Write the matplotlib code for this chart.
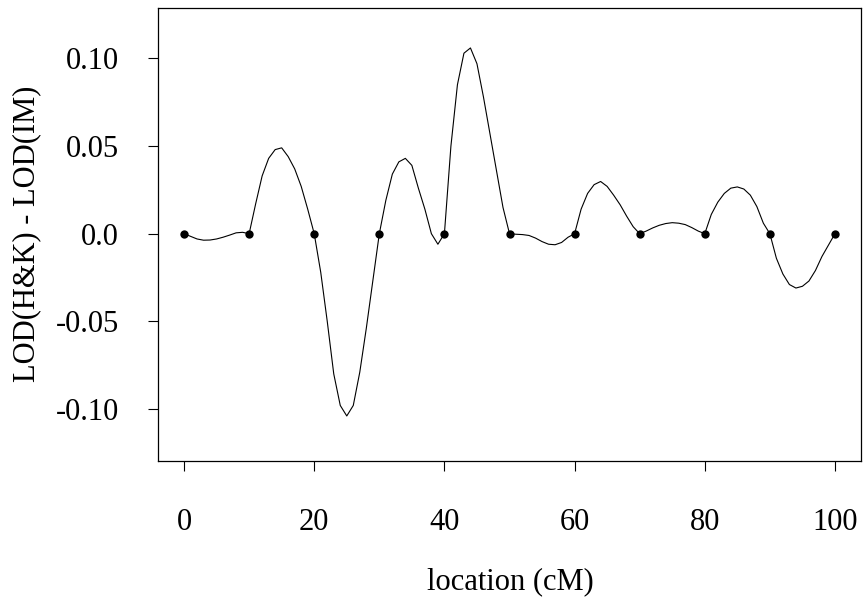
import matplotlib
matplotlib.use("Agg")
import matplotlib.pyplot as plt
import numpy as np

# location (cM) and LOD difference, sampled at 1 cM
location = list(range(0, 101))
lod_diff = [
    0.0, -0.0015, -0.003, -0.0037, -0.0036, -0.003, -0.002, -0.0008, 0.0005, 0.0008,
    0.0, 0.017, 0.033, 0.043, 0.048, 0.049, 0.044, 0.037, 0.027, 0.014,
    0.0, -0.022, -0.050, -0.080, -0.098, -0.104, -0.098, -0.079, -0.054, -0.027,
    0.0, 0.019, 0.034, 0.041, 0.043, 0.039, 0.026, 0.014, 0.0, -0.006,
    0.0, 0.050, 0.085, 0.103, 0.106, 0.097, 0.078, 0.057, 0.036, 0.015,
    0.0, -0.0003, -0.0005, -0.001, -0.0025, -0.0045, -0.006, -0.0063, -0.005, -0.002,
    0.0, 0.014, 0.023, 0.028, 0.0298, 0.027, 0.022, 0.0165, 0.010, 0.004,
    0.0, 0.0015, 0.0033, 0.0048, 0.0058, 0.0063, 0.006, 0.0052, 0.0035, 0.0015,
    0.0, 0.011, 0.018, 0.023, 0.026, 0.0267, 0.0255, 0.022, 0.0155, 0.006,
    0.0, -0.014, -0.023, -0.029, -0.031, -0.030, -0.027, -0.021, -0.013, -0.0065,
    0.0,
]
marker_pos = [0, 10, 20, 30, 40, 50, 60, 70, 80, 90, 100]
marker_val = [0.0] * len(marker_pos)

xticks = [0, 20, 40, 60, 80, 100]
yticks = [-0.10, -0.05, 0.0, 0.05, 0.10]
ytick_labels = ["-0.10", "-0.05", "0.0", "0.05", "0.10"]

W, H = 863, 608
fig = plt.figure(figsize=(W / 100, H / 100), dpi=100)
L, R, T, B = 158, 861, 8, 461
ax = fig.add_axes([L / W, 1 - B / H, (R - L) / W, (B - T) / H])

plt.rcParams['font.family'] = ['Liberation Serif']
fs = 22

ax.plot(location, lod_diff, color='black', lw=0.8)
ax.plot(marker_pos, marker_val, 'o', color='black', ms=6, mew=0)

ax.set_xlim(-4, 104)
ax.set_ylim(-0.1297, 0.1288)

ax.set_xticks(xticks)
ax.set_xticklabels([str(v) for v in xticks], fontsize=fs, family='Liberation Serif')
ax.set_yticks(yticks)
ax.set_yticklabels(ytick_labels, fontsize=fs, family='Liberation Serif')
ax.tick_params(axis='x', direction='out', length=7, width=0.8, pad=27)
ax.tick_params(axis='y', direction='out', length=7, width=0.8, pad=21)

for s in ax.spines.values():
    s.set_linewidth(0.9)
    s.set_color('black')

fig.text(27 / W, 1 - 234 / H, "LOD(H&K) - LOD(IM)", rotation=90,
         ha='center', va='center', fontsize=fs, family='Liberation Serif')
fig.text(510 / W, 1 - 582 / H, "location (cM)", ha='center', va='center',
         fontsize=fs, family='Liberation Serif')

fig.savefig("out.png", dpi=100)
